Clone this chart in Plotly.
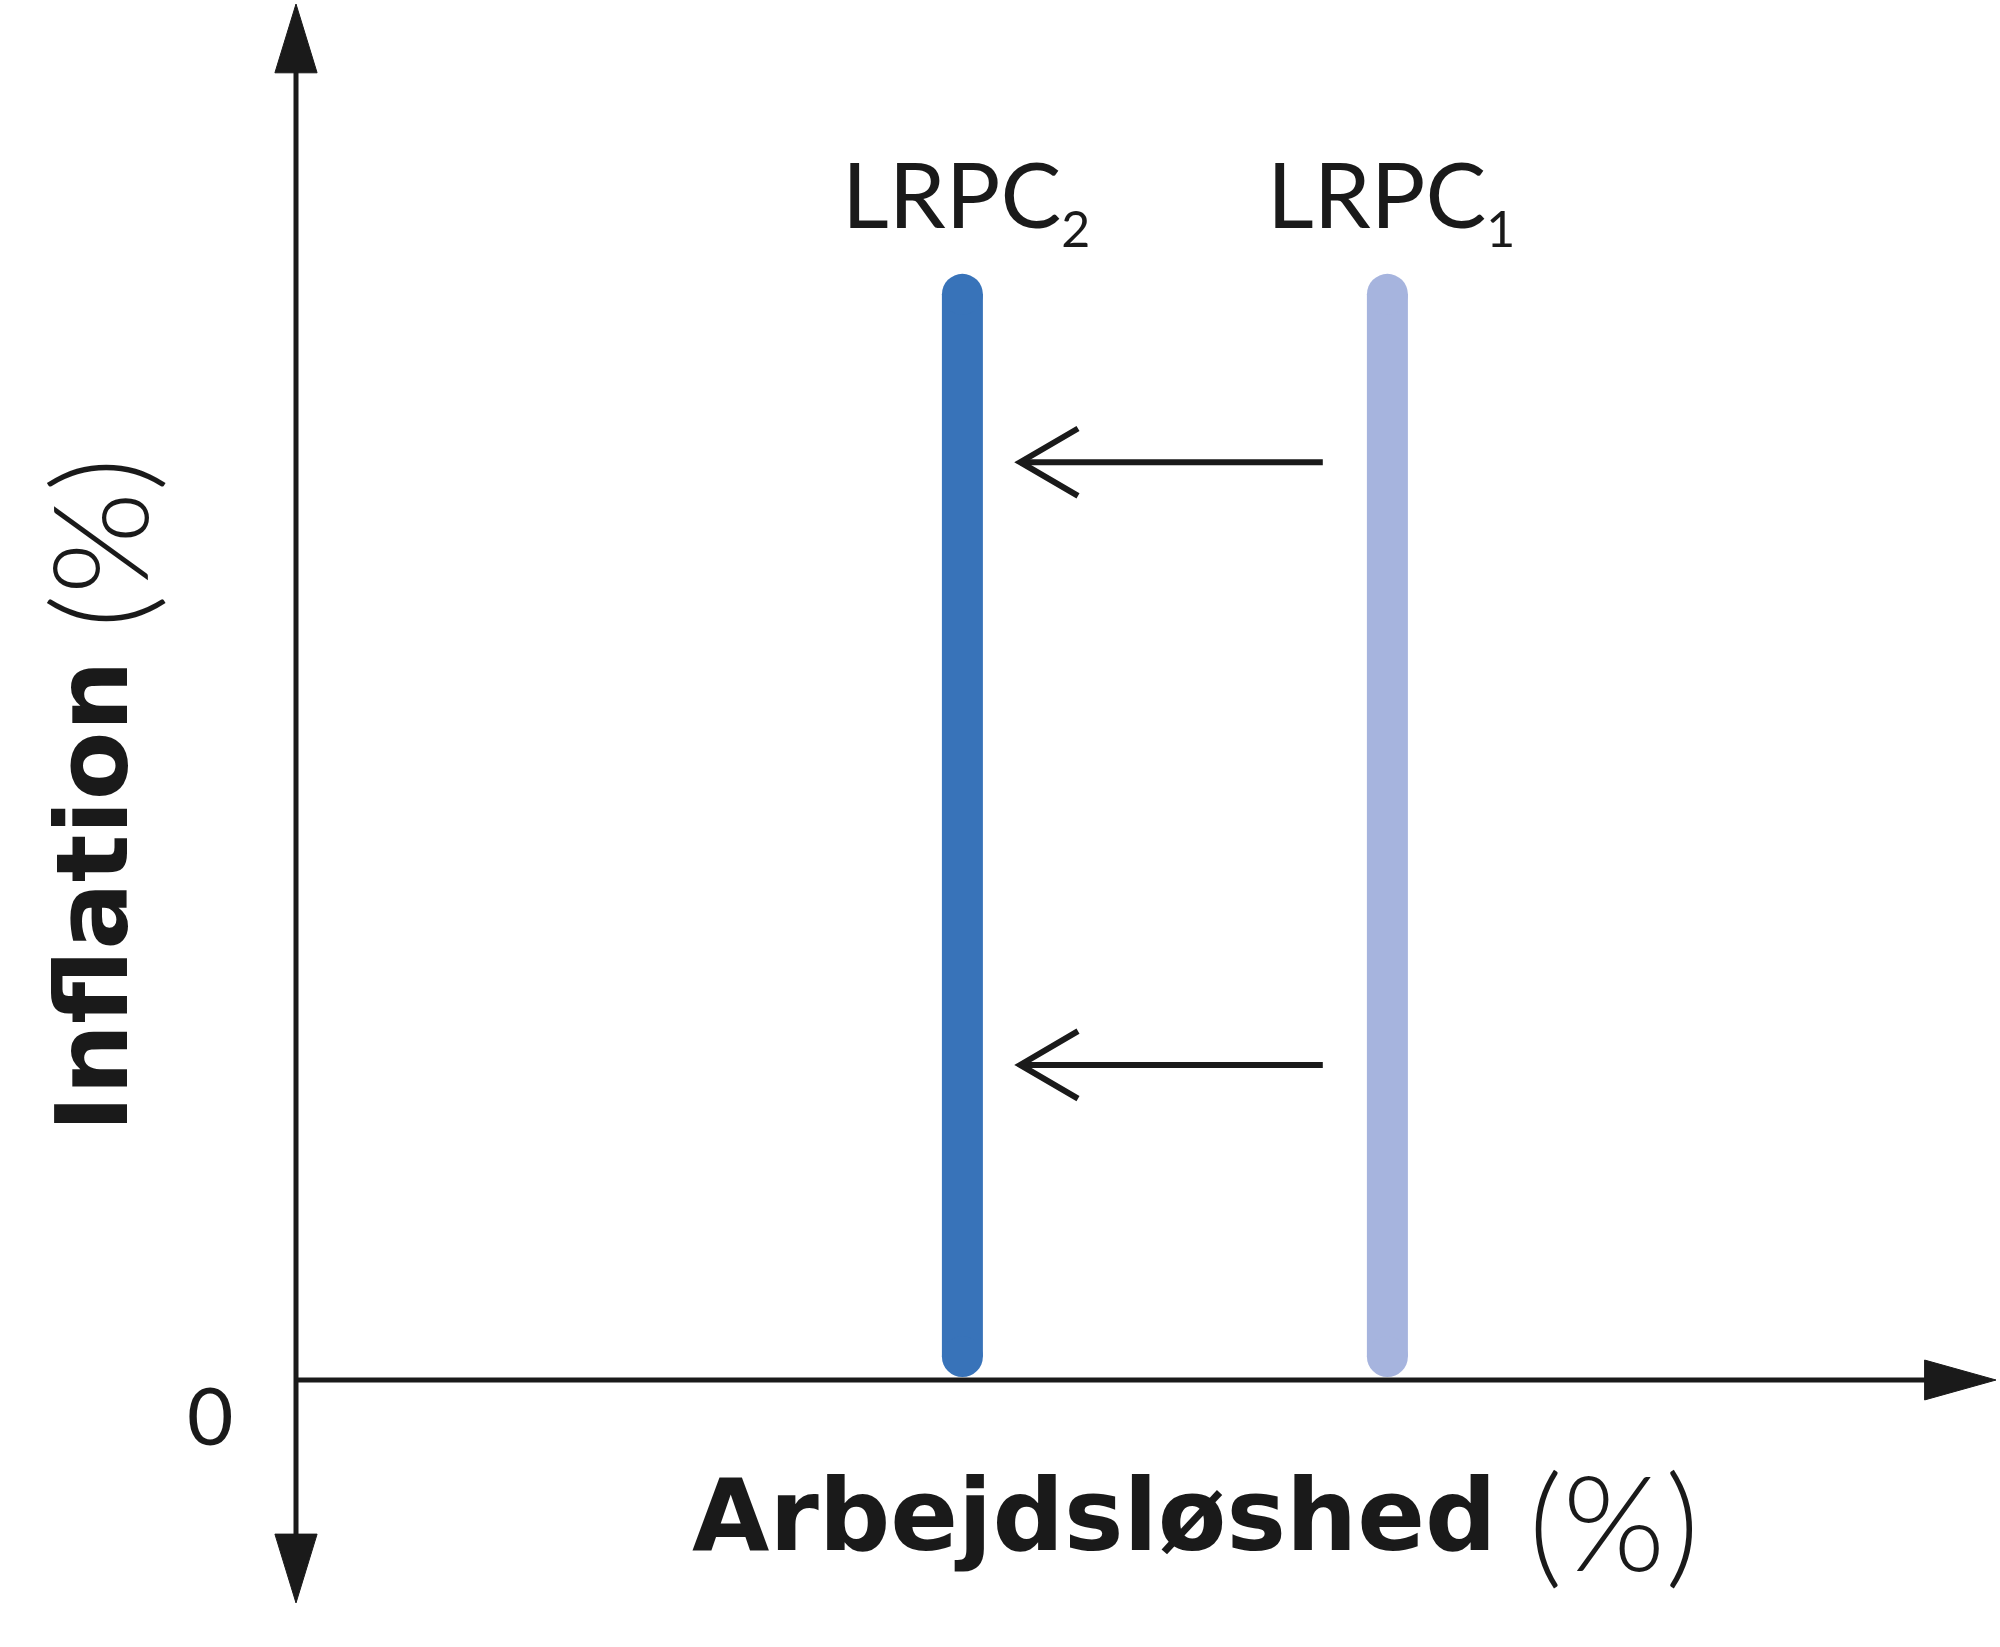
import plotly.graph_objects as go

# ---- data (conceptual units: unemployment on x, inflation on y) ----
curve_names = ["LRPC", "LRPC"]
curve_subs = ["2", "1"]
curve_x = [3.92, 6.42]
curve_y_bottom = [0.17, 0.17]
curve_y_top = [7.89, 7.89]
curve_colors = ["#3873b9", "#a6b4de"]

shift_y = [6.67, 2.29]
shift_x_start = [6.04, 6.04]
shift_x_end = [4.26, 4.26]

x_axis_end = 10.0
y_axis_top = 10.0
y_axis_bottom = -1.62

origin_label = "0"
x_title = "Arbejdsløshed"
y_title = "Inflation"
unit_text = "(%)"

# ---- styling ----
INK = "#1a1a1a"
AXIS_W = 5
ARROW_W = 6
CURVE_W = 41
HEAD_LEN_X, HEAD_HALF_Y = 0.42, 0.145      # x-axis arrowhead
HEAD_LEN_Y, HEAD_HALF_X = 0.50, 0.124      # y-axis arrowheads
CHEV_DX, CHEV_DY = 0.34, 0.245             # open chevrons
LIGHT = "Lato, 'Open Sans', sans-serif"
BOLD = "'DejaVu Sans', sans-serif"

fig = go.Figure()

# axes
fig.add_trace(go.Scatter(
    x=[0, 0], y=[y_axis_bottom + HEAD_LEN_Y * 0.8, y_axis_top - HEAD_LEN_Y * 0.8],
    mode="lines", line=dict(color=INK, width=AXIS_W), hoverinfo="skip"))
fig.add_trace(go.Scatter(
    x=[0, x_axis_end - HEAD_LEN_X * 0.8], y=[0, 0],
    mode="lines", line=dict(color=INK, width=AXIS_W), hoverinfo="skip"))

# axis arrowheads (filled)
heads = [
    ([0 - HEAD_HALF_X, 0, 0 + HEAD_HALF_X, 0 - HEAD_HALF_X],
     [y_axis_top - HEAD_LEN_Y, y_axis_top, y_axis_top - HEAD_LEN_Y, y_axis_top - HEAD_LEN_Y]),
    ([0 - HEAD_HALF_X, 0, 0 + HEAD_HALF_X, 0 - HEAD_HALF_X],
     [y_axis_bottom + HEAD_LEN_Y, y_axis_bottom, y_axis_bottom + HEAD_LEN_Y, y_axis_bottom + HEAD_LEN_Y]),
    ([x_axis_end - HEAD_LEN_X, x_axis_end, x_axis_end - HEAD_LEN_X, x_axis_end - HEAD_LEN_X],
     [0 + HEAD_HALF_Y, 0, 0 - HEAD_HALF_Y, 0 + HEAD_HALF_Y]),
]
for hx, hy in heads:
    fig.add_trace(go.Scatter(x=hx, y=hy, mode="lines", fill="toself",
                             fillcolor=INK, line=dict(color=INK, width=1),
                             hoverinfo="skip"))

# LRPC curves (vertical, round ends)
for cx, yb, yt, col in zip(curve_x, curve_y_bottom, curve_y_top, curve_colors):
    fig.add_trace(go.Scatter(
        x=[cx, cx], y=[yb, yt], mode="lines+markers",
        line=dict(color=col, width=CURVE_W),
        marker=dict(color=col, size=CURVE_W, line=dict(width=0)),
        hoverinfo="skip"))

# shift arrows
for sy, xs, xe in zip(shift_y, shift_x_start, shift_x_end):
    fig.add_trace(go.Scatter(
        x=[xs, xe, None, xe + CHEV_DX, xe, xe + CHEV_DX],
        y=[sy, sy, None, sy + CHEV_DY, sy, sy - CHEV_DY],
        mode="lines", line=dict(color=INK, width=ARROW_W), hoverinfo="skip"))

annotations = []
for name, sub, cx, yt in zip(curve_names, curve_subs, curve_x, curve_y_top):
    annotations.append(dict(
        x=cx + 0.02, y=yt + 0.25, xref="x", yref="y",
        text=f"{name}<sub><span style='font-size:50px'>{sub}</span></sub>",
        showarrow=False, xanchor="center", yanchor="bottom",
        font=dict(family=LIGHT, size=91, color=INK)))

annotations.append(dict(
    x=-0.506, y=-0.25, xref="x", yref="y", text=origin_label, showarrow=False,
    xanchor="center", yanchor="middle",
    font=dict(family=LIGHT, size=80, color=INK)))

unit_span = (f"<sub><span style='font-family:Lato;font-weight:300;"
             f"font-size:132px'>{unit_text}</span></sub>")

annotations.append(dict(
    x=5.29, y=-1.02, xref="x", yref="y",
    text=f"<b>{x_title}</b> {unit_span}", showarrow=False,
    xanchor="center", yanchor="middle",
    font=dict(family=BOLD, size=100, color=INK)))

annotations.append(dict(
    x=-1.17, y=4.25, xref="x", yref="y",
    text=f"<b>{y_title}</b> {unit_span}", showarrow=False, textangle=-90,
    xanchor="center", yanchor="middle",
    font=dict(family=BOLD, size=100, color=INK)))

W, H = 2000, 1647
ox, oy = 296, 1380
px_x, px_y = 170.0, 137.6

fig.update_layout(
    width=W, height=H,
    margin=dict(l=0, r=0, t=0, b=0),
    paper_bgcolor="white", plot_bgcolor="white",
    showlegend=False,
    annotations=annotations,
    xaxis=dict(visible=False, range=[-ox / px_x, (W - ox) / px_x], fixedrange=True),
    yaxis=dict(visible=False, range=[-(H - oy) / px_y, oy / px_y], fixedrange=True),
)

fig.write_html("out.html", config={"displayModeBar": False},
               post_script="document.body.style.margin='0';")
